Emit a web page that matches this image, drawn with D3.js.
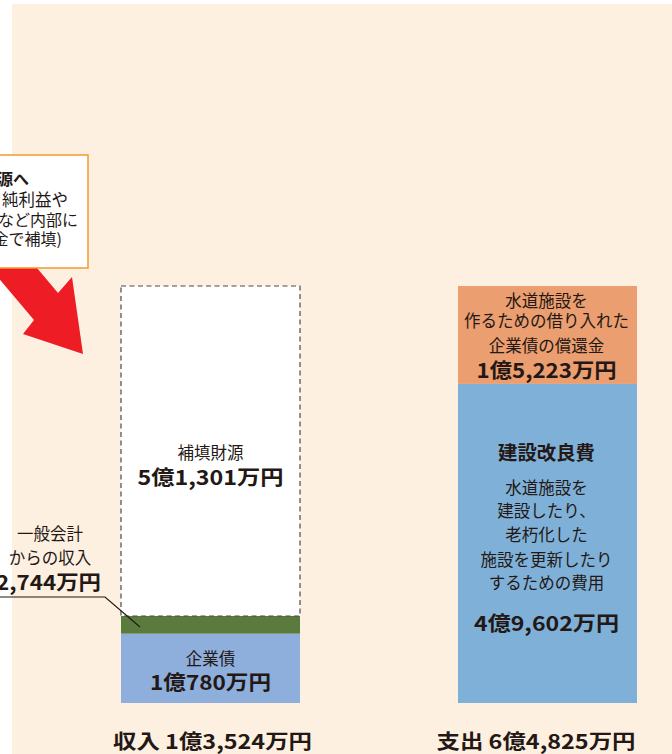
<!DOCTYPE html>
<html><head><meta charset="utf-8">
<script src="https://cdn.jsdelivr.net/npm/d3@7"></script>
<style>
html,body{margin:0;padding:0;background:#fff;}
svg{display:block;font-family:"Noto Sans CJK JP","Noto Sans",sans-serif;}
</style></head>
<body>
<script>
// ---- data (万円) ----
const incomeKeys = ["企業債", "一般会計からの収入", "補填財源"];
const incomeValues = [10780, 2744, 51301];
const expenseKeys = ["建設改良費", "企業債の償還金"];
const expenseValues = [49602, 15223];
const columns = ["収入", "支出"];
const totalLabels = ["収入 1億3,524万円", "支出 6億4,825万円"];

const W = 672, H = 754;
const svg = d3.select("body").append("svg").attr("width", W).attr("height", H);

svg.append("rect").attr("x", 12).attr("y", 4).attr("width", W - 12).attr("height", H - 4).attr("fill", "#fdf0e1");

const total = d3.sum(expenseValues);
const y = d3.scaleLinear().domain([0, total]).range([703, 286]);
const x = d3.scaleOrdinal().domain(columns).range([121, 458]);
const bw = 179;

const txtColor = "#231815";

function stack(vals) {
  let acc = 0;
  return vals.map(v => { const s = acc; acc += v; return [s, acc]; });
}

// income bars
const inc = stack(incomeValues);
const incFill = ["#8eaedb", "#5a7a3e", "#ffffff"];
inc.forEach((d, i) => {
  const r = svg.append("rect")
    .attr("x", x("収入")).attr("width", bw)
    .attr("y", y(d[1])).attr("height", y(d[0]) - y(d[1]))
    .attr("fill", incFill[i]);
  if (i === 2) r.attr("stroke", "#4a4a4a").attr("stroke-width", 1.2).attr("stroke-dasharray", "5,3.5");
});

// expense bars
const exp = stack(expenseValues);
const expFill = ["#7fb1d8", "#eb9e6f"];
exp.forEach((d, i) => {
  svg.append("rect")
    .attr("x", x("支出")).attr("width", bw)
    .attr("y", y(d[1])).attr("height", y(d[0]) - y(d[1]))
    .attr("fill", expFill[i]);
});

function label(t, cx, cy, size, bold, anchor, len) {
  const el = svg.append("text").attr("x", cx).attr("y", cy)
    .attr("text-anchor", anchor || "middle").attr("dominant-baseline", "central")
    .attr("font-size", size).attr("font-weight", bold ? 700 : 400)
    .attr("fill", txtColor).text(t);
  if (len) el.attr("textLength", len).attr("lengthAdjust", "spacingAndGlyphs");
  return el;
}

const lc = x("収入") + bw / 2, rc = x("支出") + bw / 2 - 1;

// income labels
label("補填財源", lc, 452, 16.5, false);
label("5億1,301万円", lc, 476, 20.5, true, "middle", 146);
label("企業債", lc, 658, 16.5, false);
label("1億780万円", lc, 681, 20.5, true, "middle", 121);

// expense labels
label("水道施設を", rc, 300, 16.5, false);
label("作るための借り入れた", rc, 320, 16.5, false);
label("企業債の償還金", rc, 344.5, 16.5, false);
label("1億5,223万円", rc, 369, 20.5, true, "middle", 140);

label("建設改良費", rc, 451.5, 19, true, "middle", 97);
["水道施設を", "建設したり、", "老朽化した", "施設を更新したり", "するための費用"].forEach((t, i) => {
  label(t, rc, [486.5, 509.5, 533.5, 558.5, 581.5][i], 16.5, false);
});
label("4億9,602万円", rc, 622, 20.5, true, "middle", 145);

// general account label + leader
label("一般会計", 50, 532.5, 16.5, false);
label("からの収入", 50, 556.5, 16.5, false);
label("2,744万円", 101, 581, 20.5, true, "end", 105);
svg.append("path").attr("d", "M0,597 L105,597 L140,627")
  .attr("fill", "none").attr("stroke", "#231815").attr("stroke-width", 1.2);

// totals
label(totalLabels[0], 212.5, 740, 20, true, "middle", 199);
label(totalLabels[1], 536, 740, 20, true, "middle", 199);

// red arrow
svg.append("path")
  .attr("d", "M-10,212 L58,293 L72,277 L83,354 L23,334 L34,320 L-10,268 Z")
  .attr("fill", "#ee1c25");

// callout box
svg.append("rect").attr("x", -20).attr("y", 155).attr("width", 108).attr("height", 113)
  .attr("fill", "#ffffff").attr("stroke", "#f39a2a").attr("stroke-width", 1.5);
label("源へ", 29, 177.5, 16, true, "end");
label("純利益や", 68, 199, 16.5, false, "end");
label("など内部に", 78, 219, 16, false, "end");
label("金で補填)", 62, 237.5, 16, false, "end");
</script>
</body></html>
